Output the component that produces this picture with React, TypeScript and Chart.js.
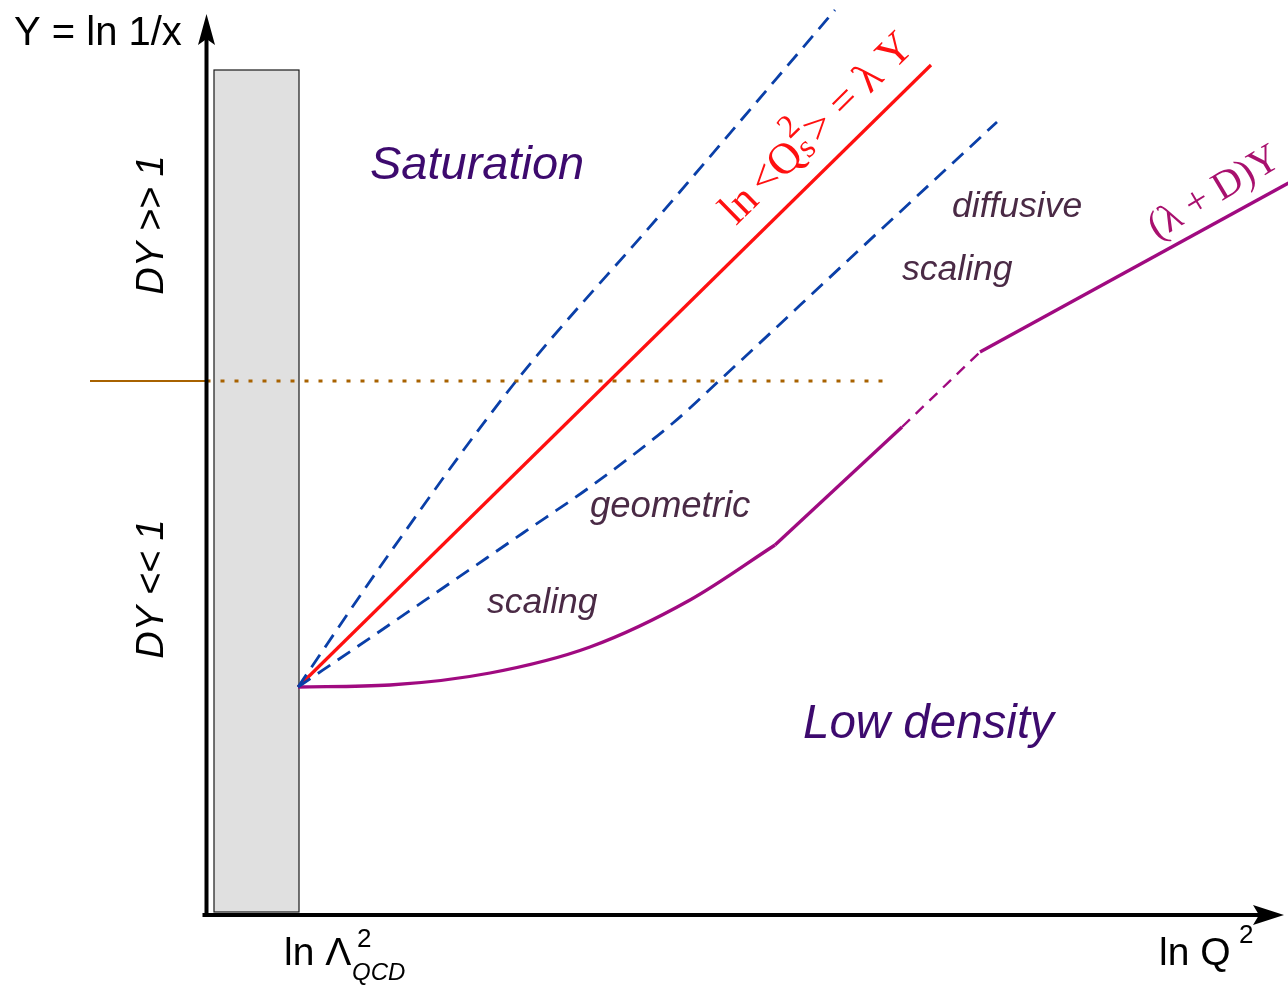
import React, { useEffect, useRef } from "react";
import { Chart, registerables } from "chart.js";

Chart.register(...registerables);

// Schematic coordinates: x = ln Q^2, y = Y = ln 1/x (arbitrary units, origin at the axes' corner)
const X_MIN = -20.65;
const X_MAX = 108.15;
const Y_MIN = -7.0;
const Y_MAX = 91.5;

// Saturation line  ln<Q_s^2> = lambda Y
const saturationLine: [number, number][] = [[9.15, 22.8], [72.45, 85.0]];
// Upper border of scaling window (dashed)
const upperWindow: [number, number][] = [[9.15, 22.8], [18.05, 35.8], [30.65, 53.0], [45.35, 70.0], [62.85, 90.5]];
// Lower border of scaling window (dashed)
const lowerWindow: [number, number][] = [[9.15, 22.8], [16.35, 27.7], [23.35, 32.5], [31.65, 38.2], [38.35, 42.8], [46.65, 49.2], [51.35, 53.5], [65.15, 66.4], [79.05, 79.3]];
// Low density boundary: curved part, straight part, dashed transition, (lambda + D)Y
const boundaryCurve: [number, number][] = [[9.15, 22.8], [18.35, 23.0], [28.35, 24.2], [38.35, 26.8], [48.35, 31.5], [56.85, 37.0]];
const boundaryStraight: [number, number][] = [[56.85, 37.0], [69.55, 48.8]];
const boundaryDashed: [number, number][] = [[69.55, 48.8], [77.35, 56.3]];
const boundaryDiffusive: [number, number][] = [[77.35, 56.3], [108.2, 73.2]];
// Y where DY ~ 1
const dyOneLevel = 53.4;
const dyOneSolid: [number, number][] = [[-11.65, dyOneLevel], [0, dyOneLevel]];
const dyOneDotted: [number, number][] = [[0, dyOneLevel], [68.05, dyOneLevel]];
// Non-perturbative region box (ln Lambda_QCD^2)
const npBoxX = [0.75, 9.25];
const npBoxY = [0.3, 84.5];
// Axis ends
const axisXEnd = 107.75;
const axisYEnd = 90.1;

const toPts = (a: [number, number][]) => a.map(([x, y]) => ({ x, y }));

const RED = "#ff1010";
const BLUE = "#0a3fa8";
const PURPLE = "#a00a80";
const ORANGE = "#a86200";
const MAUVE = "#4a2a45";
const DARKPURPLE = "#3d0a6e";
const SANS = '"Liberation Sans", Arial, sans-serif';
const SERIF = '"Liberation Serif", "Times New Roman", serif';

const diagramPlugin = {
  id: "diagram",
  beforeDatasetsDraw(chart: any) {
    const { ctx, scales } = chart;
    const xs = scales.x, ys = scales.y;
    const x0 = xs.getPixelForValue(npBoxX[0]);
    const x1 = xs.getPixelForValue(npBoxX[1]);
    const y0 = ys.getPixelForValue(npBoxY[1]);
    const y1 = ys.getPixelForValue(npBoxY[0]);
    ctx.save();
    ctx.fillStyle = "#e0e0e0";
    ctx.fillRect(x0, y0, x1 - x0, y1 - y0);
    ctx.strokeStyle = "#1a1a1a";
    ctx.lineWidth = 1.2;
    ctx.strokeRect(x0, y0, x1 - x0, y1 - y0);
    ctx.restore();
  },
  afterDatasetsDraw(chart: any) {
    const { ctx, scales } = chart;
    const xs = scales.x, ys = scales.y;
    const X = (v: number) => xs.getPixelForValue(v);
    const Y = (v: number) => ys.getPixelForValue(v);
    const ox = X(0), oy = Y(0);
    ctx.save();
    // axes
    ctx.strokeStyle = "#000";
    ctx.fillStyle = "#000";
    ctx.lineWidth = 4;
    ctx.beginPath();
    ctx.moveTo(ox, oy + 2);
    ctx.lineTo(ox, Y(axisYEnd) + 20);
    ctx.moveTo(X(-0.4), oy);
    ctx.lineTo(X(axisXEnd) - 20, oy);
    ctx.stroke();
    // arrowheads
    const ty = Y(axisYEnd);
    ctx.beginPath();
    ctx.moveTo(ox, ty);
    ctx.lineTo(ox + 8.5, ty + 31);
    ctx.lineTo(ox, ty + 25);
    ctx.lineTo(ox - 8.5, ty + 31);
    ctx.closePath();
    ctx.fill();
    const tx = X(axisXEnd);
    ctx.beginPath();
    ctx.moveTo(tx, oy);
    ctx.lineTo(tx - 31, oy - 10);
    ctx.lineTo(tx - 25, oy);
    ctx.lineTo(tx - 31, oy + 10);
    ctx.closePath();
    ctx.fill();

    // axis titles
    ctx.textBaseline = "alphabetic";
    ctx.textAlign = "left";
    ctx.fillStyle = "#000";
    ctx.font = `40px ${SANS}`;
    ctx.fillText("Y = ln 1/x", 14, 45);
    ctx.font = `39px ${SANS}`;
    ctx.fillText("ln Q", 1159, 965);
    ctx.font = `26px ${SANS}`;
    ctx.fillText("2", 1239, 943);
    ctx.font = `39px ${SANS}`;
    ctx.fillText("ln Λ", 284, 965);
    ctx.font = `26px ${SANS}`;
    ctx.fillText("2", 357, 947);
    ctx.font = `italic 24px ${SANS}`;
    ctx.fillText("QCD", 352, 980);

    // rotated DY labels
    ctx.font = `italic 38px ${SANS}`;
    ctx.textAlign = "center";
    const rot = (text: string, x: number, y: number) => {
      ctx.save();
      ctx.translate(x, y);
      ctx.rotate(-Math.PI / 2);
      ctx.fillText(text, 0, 0);
      ctx.restore();
    };
    rot("DY >> 1", X(-4.35), Y(69.0));
    rot("DY << 1", X(-4.35), Y(32.6));

    // region labels
    ctx.textAlign = "left";
    ctx.fillStyle = DARKPURPLE;
    ctx.font = `italic 47px ${SANS}`;
    ctx.fillText("Saturation", X(16.35), Y(73.6));
    ctx.font = `italic 47.5px ${SANS}`;
    ctx.fillText("Low density", X(59.65), Y(17.7));
    ctx.fillStyle = MAUVE;
    ctx.font = `italic 35.5px ${SANS}`;
    ctx.fillText("diffusive", X(74.55), Y(69.8));
    ctx.fillText("scaling", X(69.55), Y(63.5));
    ctx.fillText("scaling", X(28.05), Y(30.2));
    ctx.font = `italic 36.5px ${SANS}`;
    ctx.fillText("geometric", X(38.35), Y(39.8));

    // saturation line label
    ctx.save();
    ctx.translate(X(52.95), Y(68.9));
    ctx.rotate((-44.5 * Math.PI) / 180);
    ctx.fillStyle = RED;
    const F = 44;
    let cx = 0;
    ctx.font = `${F}px ${SERIF}`;
    ctx.fillText("ln", cx, 0);
    cx += ctx.measureText("ln").width + 7;
    ctx.fillText("<Q", cx, 0);
    cx += ctx.measureText("<Q").width + 1;
    ctx.font = `${F * 0.75}px ${SERIF}`;
    ctx.fillText("s", cx, 3);
    ctx.fillText("2", cx, -24);
    cx += ctx.measureText("2").width + 1;
    ctx.font = `${F}px ${SERIF}`;
    ctx.fillText("> = λ Y", cx, 0);
    ctx.restore();

    // (lambda + D) Y label
    ctx.save();
    ctx.translate(X(95.05), Y(67.5));
    ctx.rotate((-31 * Math.PI) / 180);
    ctx.fillStyle = "#a8106e";
    ctx.font = `40px ${SERIF}`;
    ctx.fillText("(λ + D)Y", 0, 0);
    ctx.restore();

    ctx.restore();
  },
};

export default function App() {
  const ref = useRef<HTMLCanvasElement | null>(null);
  useEffect(() => {
    document.body.style.margin = "0";
    if (!ref.current) return;
    const line = (data: [number, number][], color: string, width: number, extra: any = {}) => ({
      data: toPts(data),
      borderColor: color,
      borderWidth: width,
      pointRadius: 0,
      fill: false,
      tension: 0,
      ...extra,
    });
    const chart = new Chart(ref.current, {
      type: "line",
      data: {
        datasets: [
          line(dyOneSolid, ORANGE, 2),
          line(dyOneDotted, ORANGE, 3, { borderDash: [4, 10] }),
          line(upperWindow, BLUE, 2.8, { borderDash: [15, 9], cubicInterpolationMode: "monotone" }),
          line(lowerWindow, BLUE, 2.8, { borderDash: [15, 9], cubicInterpolationMode: "monotone" }),
          line(saturationLine, RED, 3.2),
          line(boundaryCurve, PURPLE, 3.3, { cubicInterpolationMode: "monotone" }),
          line(boundaryStraight, PURPLE, 3.3),
          line(boundaryDashed, PURPLE, 2.4, { borderDash: [11, 8] }),
          line(boundaryDiffusive, PURPLE, 3.3),
        ] as any,
      },
      options: {
        responsive: false,
        devicePixelRatio: 1,
        animation: false,
        layout: { padding: 0 },
        plugins: { legend: { display: false }, tooltip: { enabled: false } },
        scales: {
          x: { type: "linear", min: X_MIN, max: X_MAX, display: false },
          y: { type: "linear", min: Y_MIN, max: Y_MAX, display: false },
        },
      },
      plugins: [diagramPlugin],
    });
    return () => chart.destroy();
  }, []);
  return (
    <div style={{ position: "absolute", left: 0, top: 0, width: 1288, height: 985, background: "#fff" }}>
      <canvas ref={ref} width={1288} height={985} style={{ display: "block" }} />
    </div>
  );
}
